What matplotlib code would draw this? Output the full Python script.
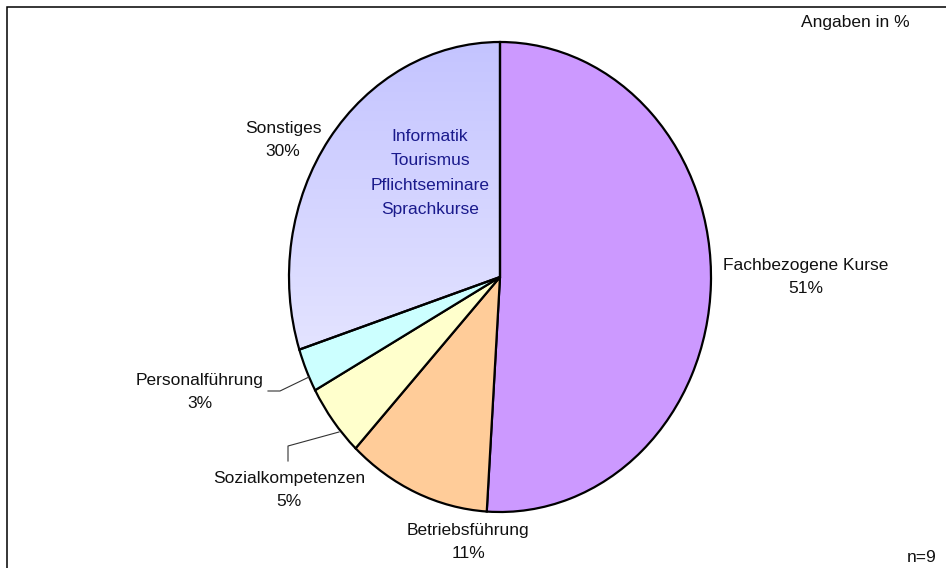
import numpy as np
import matplotlib
matplotlib.use("Agg")
import matplotlib.pyplot as plt
from matplotlib.lines import Line2D
from matplotlib.patches import Rectangle
from matplotlib.colors import to_rgb

plt.rcParams['font.family'] = ['Liberation Sans', 'DejaVu Sans']

categories = ["Fachbezogene Kurse", "Betriebsführung", "Sozialkompetenzen",
              "Personalführung", "Sonstiges"]
values = [51, 11, 5, 3, 30]
colors = ["#cc99ff", "#ffcc99", "#ffffcc", "#ccffff", "#c8c8ff"]
sonstiges_items = ["Informatik", "Tourismus", "Pflichtseminare", "Sprachkurse"]
note_units = "Angaben in %"
note_n = "n=9"

W, H = 946, 568
fig = plt.figure(figsize=(W / 100, H / 100), dpi=100)


def fx(x):
    return x / W


def fy(y):
    return 1 - y / H


# outer frame
fig.patches.append(Rectangle((fx(6.5), fy(600)), fx(1000), fy(7) - fy(600),
                             transform=fig.transFigure, fill=False,
                             edgecolor="black", linewidth=1.1))

# elliptical pie area
ax = fig.add_axes([fx(289), fy(512), fx(711) - fx(289), fy(42) - fy(512)])
wedges, _ = ax.pie(values, colors=colors, startangle=90, counterclock=False,
                   wedgeprops=dict(edgecolor="black", linewidth=1.6))
ax.set_aspect("auto")
ax.set_xlim(-1, 1)
ax.set_ylim(-1, 1)
ax.axis("off")

# vertical gradient fill for "Sonstiges"
son = wedges[4]
son.set_facecolor("none")
c_top = np.array(to_rgb("#c4c4ff"))
c_bot = np.array(to_rgb("#f4f4ff"))
t = np.linspace(0, 1, 256)[:, None, None]
grad = (1 - t) * c_top + t * c_bot
grad = np.repeat(grad, 2, axis=1)
im = ax.imshow(grad, extent=(-1, 1, -1, 1), aspect="auto", origin="upper",
               zorder=0.5, interpolation="bilinear")
im.set_clip_path(son)

fs = 12.5
lab_color = "#111111"


def label(x, y, text, **kw):
    fig.text(fx(x), fy(y), text, ha="center", va="center", fontsize=fs,
             color=lab_color, linespacing=1.65, **kw)


label(806, 277, f"{categories[0]}\n{values[0]}%")
label(468, 542, f"{categories[1]}\n{values[1]}%")
label(289, 490, f"{categories[2]}\n{values[2]}%")
label(200, 392, f"{categories[3]}\n{values[3]}%")
label(283, 140, f"{categories[4]}\n{values[4]}%")

fig.text(fx(430), fy(173), "\n".join(sonstiges_items), ha="center",
         va="center", fontsize=fs, color="#1a1a8c", linespacing=1.8)

fig.text(fx(910), fy(22), note_units, ha="right", va="center", fontsize=fs,
         color=lab_color)
fig.text(fx(937), fy(558), note_n, ha="right", va="center", fontsize=fs,
         color=lab_color)

# leader lines for the small slices
lc = "#333333"
fig.add_artist(Line2D([fx(309), fx(280), fx(268)], [fy(377), fy(391), fy(391)],
                      transform=fig.transFigure, color=lc, linewidth=0.8))
fig.add_artist(Line2D([fx(339), fx(288), fx(288)], [fy(432), fy(446), fy(461)],
                      transform=fig.transFigure, color=lc, linewidth=0.8))

fig.savefig("out.png", dpi=100, facecolor="white")
